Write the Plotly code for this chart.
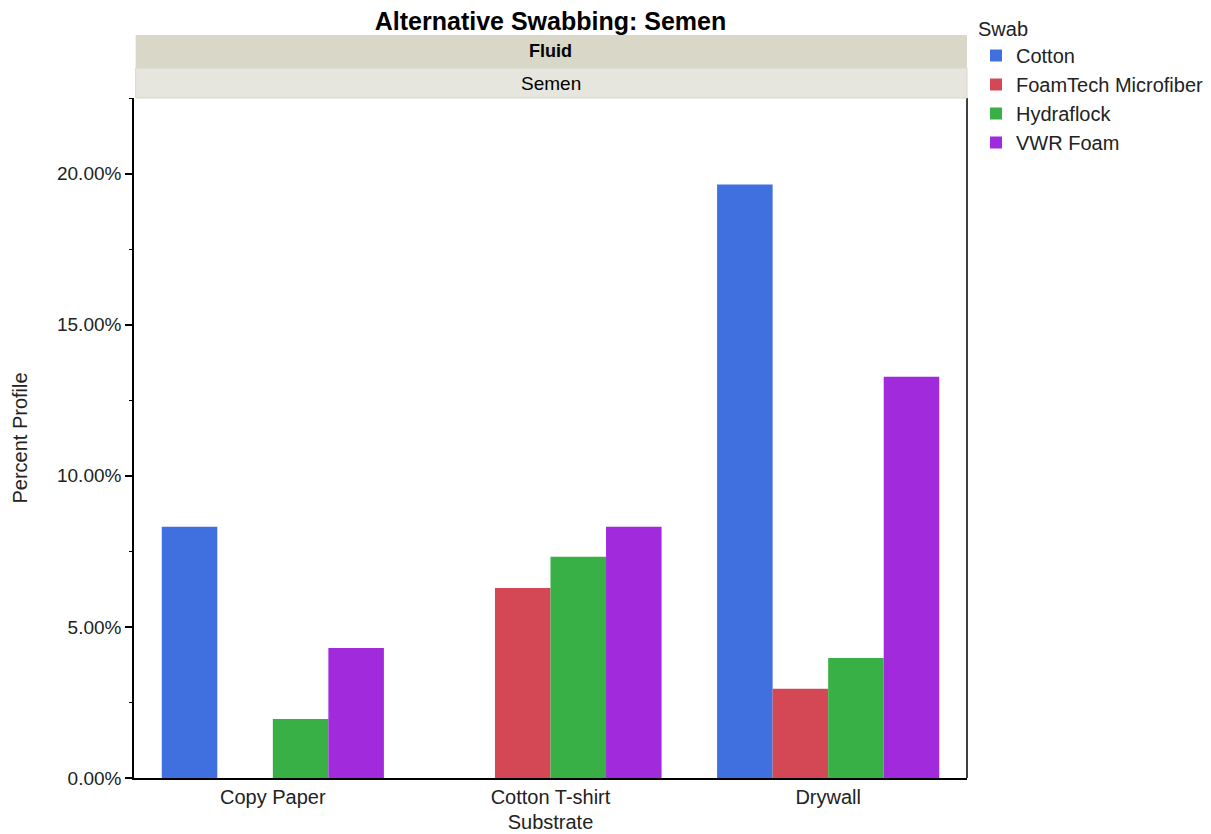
import plotly.graph_objects as go

substrates = ["Copy Paper", "Cotton T-shirt", "Drywall"]
swabs = ["Cotton", "FoamTech Microfiber", "Hydraflock", "VWR Foam"]
cotton = [0.0831, None, 0.1964]
foamtech = [None, 0.0629, 0.0295]
hydraflock = [0.0195, 0.0732, 0.0397]
vwr = [0.0430, 0.0831, 0.1328]
colors = ["#4070DF", "#D44855", "#38B045", "#A12BDC"]

series = [cotton, foamtech, hydraflock, vwr]

fig = go.Figure()
for name, vals, col in zip(swabs, series, colors):
    fig.add_trace(go.Bar(x=substrates, y=vals, name=name, marker_color=col,
                         marker_line_width=0))

font = "Liberation Sans, Arial, sans-serif"
L, R, T, B = 126, 252, 90, 64
W, H = 1211, 834
PH = H - T - B

fig.update_layout(
    width=W, height=H,
    margin=dict(l=L, r=R, t=T, b=B, pad=0, autoexpand=False),
    paper_bgcolor="white", plot_bgcolor="white",
    font=dict(family=font, size=19, color="#222"),
    bargap=0.2, bargroupgap=0,
    barmode="group",
    title=dict(text="<b>Alternative Swabbing: Semen</b>",
               x=(L + (W - R)) / 2 / W, xanchor="center",
               y=1 - 13 / H, yanchor="middle",
               font=dict(size=25, color="black")),
    legend=dict(title=dict(text="Swab", font=dict(size=20)),
                x=1.0108, xanchor="left",
                y=1 + (T - 2) / PH, yanchor="top", font=dict(size=20),
                tracegroupgap=0, itemwidth=30, bgcolor="rgba(0,0,0,0)"),
    xaxis=dict(title=dict(text="Substrate", standoff=8, font=dict(size=20)),
               showline=True, linecolor="black", linewidth=1.5, mirror=False,
               ticks="", showgrid=False, tickfont=dict(size=20)),
    yaxis=dict(title=dict(text="Percent Profile", standoff=24, font=dict(size=20)),
               range=[0, 0.225], tickformat=".2%", dtick=0.05, tick0=0,
               showline=True, linecolor="black", linewidth=1.5,
               ticks="outside", ticklen=7, tickwidth=1.5, tickcolor="black",
               showgrid=False, zeroline=False, tickfont=dict(size=19),
               minor=dict(dtick=0.025, ticks="outside", ticklen=3,
                          tickcolor="black", tickwidth=1)),
)

# right border line
fig.add_shape(type="line", xref="paper", yref="paper", x0=1, x1=1, y0=0, y1=1,
              line=dict(color="black", width=1.5))

# strips
fig.add_shape(type="rect", xref="paper", yref="paper", x0=0.002, x1=1,
              y0=1 + 30 / PH, y1=1 + 63 / PH,
              fillcolor="#D9D7C7", line=dict(width=0), layer="above")
fig.add_shape(type="rect", xref="paper", yref="paper", x0=0.002, x1=1,
              y0=1.0, y1=1 + 30 / PH,
              fillcolor="#E7E6DE", line=dict(color="#D9D7C7", width=1), layer="above")
fig.add_annotation(text="<b>Fluid</b>", xref="paper", yref="paper", x=0.5,
                   y=1 + 47 / PH, showarrow=False,
                   font=dict(size=18, color="black"), yanchor="middle")
fig.add_annotation(text="Semen", xref="paper", yref="paper", x=0.5,
                   y=1 + 15 / PH, showarrow=False,
                   font=dict(size=19, color="black"), yanchor="middle")

fig.write_html("out.html")
